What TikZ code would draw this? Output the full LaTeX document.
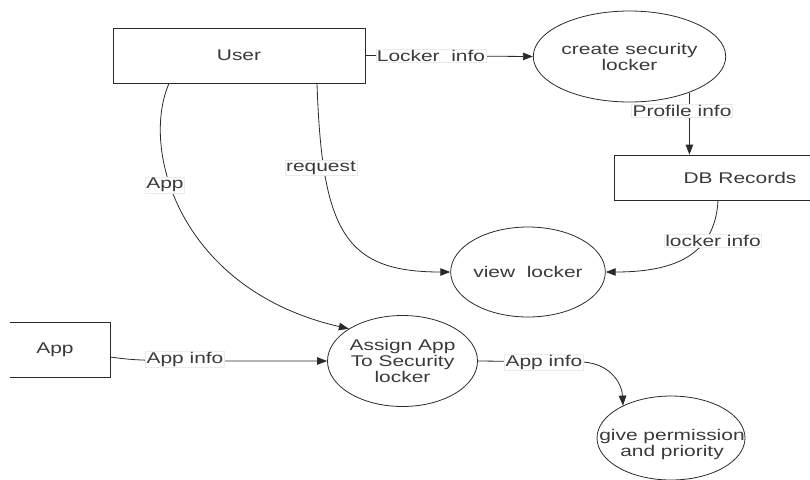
\documentclass[tikz,border=0pt]{standalone}
\usepackage{fontspec}
\setmainfont{Liberation Sans}[FakeStretch=1.35]
\usetikzlibrary{shapes.geometric,arrows.meta}
\definecolor{txt}{HTML}{3A3A3A}
\definecolor{ln}{HTML}{2A2A2A}
\begin{document}
\begin{tikzpicture}[x=1pt,y=-1pt,
  every node/.style={font=\fontsize{15.5}{16}\selectfont, text=txt},
  box/.style={rectangle, draw=ln, line width=0.8pt, inner sep=0pt},
  proc/.style={ellipse, draw=ln, line width=0.8pt, inner sep=0pt, align=center},
  lab/.style={fill=white, draw=black!8, inner sep=1pt},
  flow/.style={draw=ln, line width=0.8pt, -{Triangle[length=10pt,width=7.5pt]}}]
\useasboundingbox (0,0) rectangle (810,479);

% nodes
\node[box, minimum width=252pt, minimum height=55pt] (user) at (239,55.5) {User};
\node[proc, minimum width=151pt, minimum height=91pt] (create) at (629.5,56.5) {create security\\locker};
\node[box, minimum width=252pt, minimum height=45pt] (db) at (740,177.5) {DB Records};
\node[proc, minimum width=150pt, minimum height=90pt] (view) at (528,272) {view\ \ locker};
\node[rectangle, inner sep=0pt, minimum width=110pt, minimum height=54pt] (app) at (55,350) {App};
\draw[ln, line width=0.8pt] ([xshift=10pt]app.north west) -- (app.north east) -- (app.south east) -- ([xshift=10pt]app.south west);
\node[proc, minimum width=150pt, minimum height=91pt] (assign) at (402.5,361) {Assign App\\To Security\\locker};
\node[proc, minimum width=148pt, minimum height=84pt] (give) at (671,438) {};
\node[align=center] at (672,444) {give permission\\and priority};

% connectors
\draw[flow] (user.east) -- (create.west);
\node[lab] at (431,55.5) {Locker\ \ info};

\draw[flow] (create.-31) -- (create.-31 |- db.north);
\node[lab] at (682,111) {Profile info};

\draw[flow] ([xshift=-22pt]db.south) .. controls (715,258) and (670,272) .. (view.east);
\node[lab] at (713,241) {locker info};

\draw[flow] ([xshift=78pt]user.south) .. controls (322,232) and (345,272) .. (view.west);
\node[lab] at (321,168) {request};

\draw[flow] ([xshift=-70pt]user.south) .. controls (140,150) and (180,290) .. (assign.149);
\node[lab] at (165,185) {App};

\draw[flow] ([yshift=-7pt]app.east) .. controls (140,361) .. (assign.west);
\node[lab] at (185,359) {App info};

\draw[flow] (assign.east) -- (583,362) .. controls (612,364) and (622,385) .. (give.146);
\node[lab] at (544,362) {App info};
\end{tikzpicture}
\end{document}
